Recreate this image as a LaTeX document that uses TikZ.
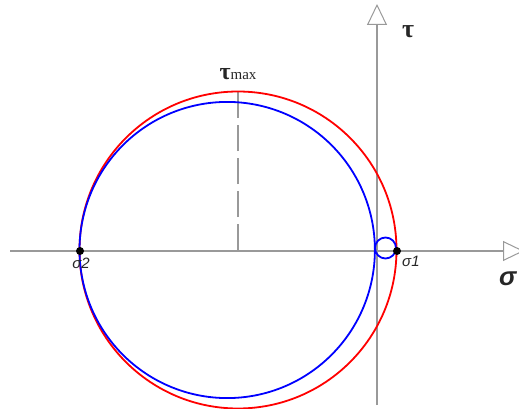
\documentclass[tikz,border=0pt]{standalone}
\usepackage{fontspec}
\setmainfont{Liberation Serif}
\newfontfamily\arialfont{Liberation Sans}
\usetikzlibrary{arrows.meta}
\begin{document}
\begin{tikzpicture}[x=1pt,y=-1pt,
  axisline/.style={draw=gray!80, line width=1.3pt},
  opentip/.style={-{Triangle[open,length=21pt,width=20pt,line width=1pt]}},
  redcurve/.style={draw=red, line width=1.8pt},
  bluecurve/.style={draw=blue, line width=1.8pt},
  dotnode/.style={circle, fill=black, inner sep=0pt, minimum size=8pt},
  smalllab/.style={font=\arialfont\itshape\fontsize{15}{16}\selectfont, text=black!85, inner sep=0pt},
]
\useasboundingbox (0,0) rectangle (519,409);
% axes
\coordinate (hstart) at (10,251);
\coordinate (hend) at (524,251);
\coordinate (vstart) at (377,405);
\coordinate (vend) at (377,4);
\draw[axisline, opentip] (hstart) -- (hend);
\draw[axisline, opentip] (vstart) -- (vend);
% dashed tau_max line
\coordinate (dbot) at (238,250);
\coordinate (dtop) at (238,91);
\draw[draw=gray!80, line width=1.4pt, dash pattern=on 26pt off 7pt] (dbot) -- (dtop);
% curves
\coordinate (rc) at (238,250);
\coordinate (lc) at (385.5,248);
\draw[redcurve] (rc) circle[radius=158.5];
\draw[bluecurve, smooth, samples=240, domain=0:360]
  plot ({238 + (147.7 - 10.8*cos(\x))*cos(\x)}, {250 + (147.7 - 10.8*cos(\x))*sin(\x)}) -- cycle;
\draw[bluecurve] (lc) circle[radius=10.5];
% points
\node[dotnode] (s2) at (80,251) {};
\node[dotnode] (s1) at (397,251) {};
\node[smalllab, anchor=north] (s2lab) at (81,258) {σ2};
\node[smalllab, anchor=north west] (s1lab) at (402,256) {σ1};
% labels
\node[inner sep=0pt, anchor=base, font=\bfseries\fontsize{26}{28}\selectfont, text=black!85] (tau) at (408,38) {τ};
\node[inner sep=0pt, anchor=base, text=black!85] (taumax) at (238,80) {{\bfseries\fontsize{24}{26}\selectfont τ}{\fontsize{15}{16}\selectfont max}};
\node[inner sep=0pt, anchor=base west, font=\arialfont\bfseries\itshape\fontsize{26}{28}\selectfont, text=black!85] (sig) at (499,285) {σ};
\end{tikzpicture}
\end{document}
